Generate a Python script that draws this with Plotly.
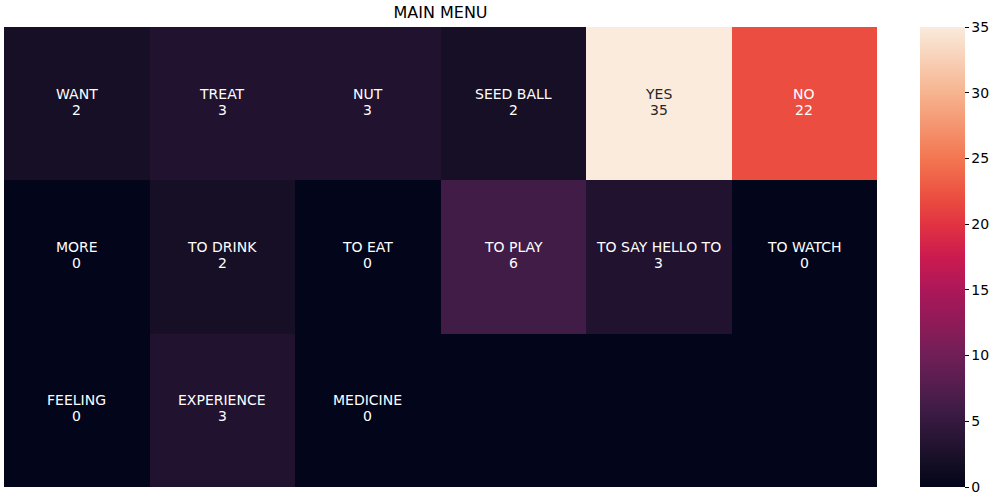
import plotly.graph_objects as go

# ---- data ----
labels = [
    ["WANT", "TREAT", "NUT", "SEED BALL", "YES", "NO"],
    ["MORE", "TO DRINK", "TO EAT", "TO PLAY", "TO SAY HELLO TO", "TO WATCH"],
    ["FEELING", "EXPERIENCE", "MEDICINE", "", "", ""],
]
values = [
    [2, 3, 3, 2, 35, 22],
    [0, 2, 0, 6, 3, 0],
    [0, 3, 0, 0, 0, 0],
]
show_value = [
    [True] * 6,
    [True] * 6,
    [True, True, True, False, False, False],
]
title_text = "MAIN MENU"
cbar_ticks = [0, 5, 10, 15, 20, 25, 30, 35]
vmin, vmax = 0, 35

rocket = [
    [0.0, "#03051A"],
    [0.057, "#160F26"],
    [0.086, "#21122F"],
    [0.143, "#35193E"],
    [0.171, "#401C47"],
    [0.286, "#701F57"],
    [0.429, "#AD1759"],
    [0.5, "#CB1B4F"],
    [0.571, "#E13342"],
    [0.629, "#EB4E40"],
    [0.714, "#F37651"],
    [0.857, "#F6B48F"],
    [1.0, "#FAEBDD"],
]

nrows = len(values)
ncols = len(values[0])

fig = go.Figure(
    go.Heatmap(
        z=values,
        x=list(range(ncols)),
        y=list(range(nrows)),
        zmin=vmin,
        zmax=vmax,
        colorscale=rocket,
        hoverinfo="skip",
        colorbar=dict(
            x=0.92, xanchor="left", xpad=0,
            y=0.026, yanchor="bottom", ypad=0,
            len=0.92, lenmode="fraction",
            thickness=45, thicknessmode="pixels",
            outlinewidth=0,
            tickvals=cbar_ticks,
            ticks="outside", ticklen=4, tickwidth=1, tickcolor="#000",
            tickfont=dict(family="DejaVu Sans", size=14, color="#000"),
        ),
    )
)

annotations = []
for r in range(nrows):
    for c in range(ncols):
        lab = labels[r][c]
        v = values[r][c]
        col = "#262626" if v / vmax > 0.8 else "#FFFFFF"
        if lab:
            annotations.append(dict(x=c, y=r, xref="x", yref="y", text=lab,
                                    showarrow=False, yshift=10,
                                    font=dict(family="DejaVu Sans", size=14, color=col)))
        if show_value[r][c]:
            annotations.append(dict(x=c, y=r, xref="x", yref="y", text=str(v),
                                    showarrow=False, yshift=-6,
                                    font=dict(family="DejaVu Sans", size=14, color=col)))

fig.update_layout(
    width=1000, height=500,
    margin=dict(l=0, r=0, t=0, b=0),
    paper_bgcolor="white", plot_bgcolor="white",
    title=dict(text=title_text, x=0.4405, xanchor="center", y=0.976, yanchor="middle",
               font=dict(family="DejaVu Sans", size=16, color="#000")),
    xaxis=dict(domain=[0.004, 0.877], range=[-0.5, ncols - 0.5], showticklabels=False,
               showgrid=False, zeroline=False, ticks=""),
    yaxis=dict(domain=[0.026, 0.946], range=[nrows - 0.5, -0.5], showticklabels=False,
               showgrid=False, zeroline=False, ticks=""),
    annotations=annotations,
)

fig.write_html("out.html")
